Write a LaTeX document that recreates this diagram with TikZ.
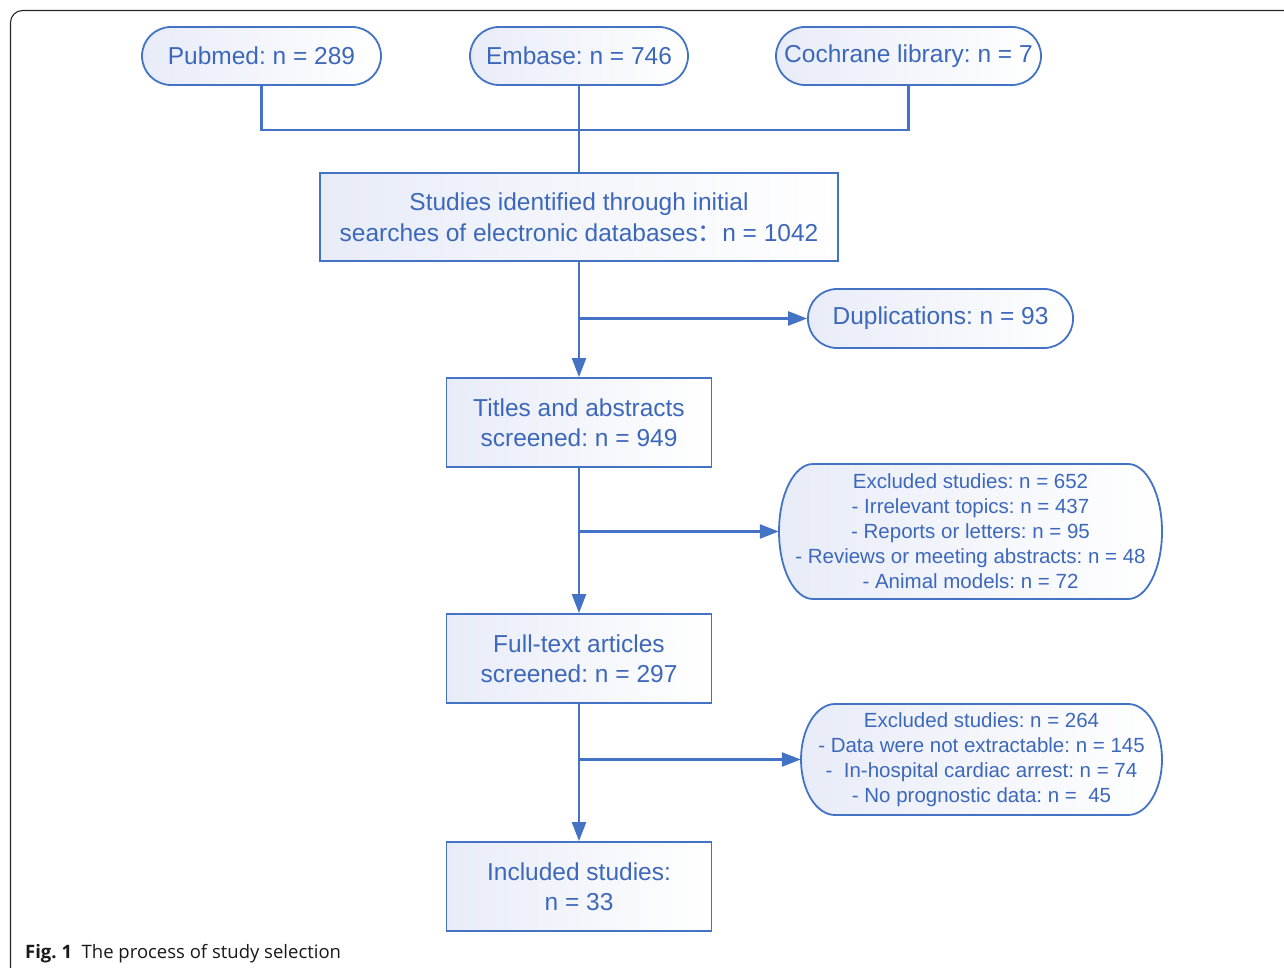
\documentclass[tikz,border=0pt]{standalone}
\usepackage{fontspec}
\setmainfont{Liberation Sans}
\newfontfamily\capfont{Open Sans}
\newfontfamily\cjk{Noto Sans CJK SC}
\usetikzlibrary{arrows.meta,calc}
\definecolor{lineblue}{HTML}{4472C4}
\definecolor{textblue}{HTML}{3D68BA}
\definecolor{fillblue}{HTML}{E8ECF8}
\frenchspacing
\begin{document}
\begin{tikzpicture}[x=1pt,y=-1pt,
  base/.style={draw=lineblue, line width=1.8pt, left color=fillblue, right color=white,
    text=textblue, align=center, inner sep=2pt, font=\frenchspacing\fontsize{24.5}{30.5}\selectfont},
  pill/.style={base, rounded corners=29pt, minimum height=58pt},
  box/.style={base, rectangle, minimum height=89pt},
  ghost/.style={text=textblue, align=center, inner sep=0pt, font=\frenchspacing\fontsize{20.5}{25}\selectfont},
  conn/.style={lineblue, line width=2.4pt},
  arr/.style={conn, -{Triangle[length=19pt,width=14pt]}}
]
\useasboundingbox (0,0) rectangle (1284,968);
% frame
\draw[black!85, line width=1.1pt, rounded corners=12pt] (1284,10.5) -- (10.5,10.5) -- (10.5,968);

% sources
\node[pill, minimum width=239pt] (pub) at (261.5,56) {Pubmed: n = 289};
\node[pill, minimum width=218pt] (emb) at (579,56) {Embase: n = 746};
\node[pill, minimum width=265pt] (coch) at (908.5,56) {Cochrane library: n = 7};

\node[box, minimum width=518pt, minimum height=88pt] (stud) at (579,217)
  {Studies identified through initial\\searches of electronic databases{\cjk ：}n = 1042};
\node[pill, minimum width=265pt, minimum height=59pt] (dup) at (940.5,318.5) {Duplications: n = 93};
\node[box, minimum width=265pt] (tit) at (579,422.5) {Titles and abstracts\\screened: n = 949};
\node[box, minimum width=265pt] (ft) at (579,658.5) {Full-text articles\\screened: n = 297};
\node[box, minimum width=265pt] (inc) at (579,886.5) {Included studies:\\n = 33};

% excluded 1
\path[draw=lineblue, line width=1.8pt, left color=fillblue, right color=white]
  (813,464) -- (1128,464) arc[start angle=90, end angle=-90, x radius=34pt, y radius=67.5pt]
  -- (813,599) arc[start angle=270, end angle=90, x radius=34pt, y radius=67.5pt] -- cycle;
\node[ghost, minimum width=383pt, minimum height=135pt] (ex1) at (970.5,531.5)
  {Excluded studies: n = 652\\- Irrelevant topics: n = 437\\- Reports or letters: n = 95\\- Reviews or meeting abstracts: n = 48\\- Animal models: n = 72};

% excluded 2
\path[draw=lineblue, line width=1.8pt, left color=fillblue, right color=white]
  (835,704) -- (1128,704) arc[start angle=90, end angle=-90, x radius=34pt, y radius=55.5pt]
  -- (835,815) arc[start angle=270, end angle=90, x radius=34pt, y radius=55.5pt] -- cycle;
\node[ghost, minimum width=361pt, minimum height=111pt] (ex2) at (981.5,759.5)
  {Excluded studies: n = 264\\- Data were not extractable: n = 145\\-\ \ In-hospital cardiac arrest: n = 74\\- No prognostic data: n =\ \ 45};

% connectors
\coordinate (jt) at (579,130);
\draw[conn] (pub.south) -- (pub.south |- jt) -- (coch.south |- jt) -- (coch.south);
\draw[conn] (emb.south) -- (stud.north);
\draw[arr] (stud.south) -- (tit.north);
\draw[arr] (stud.south |- dup.west) -- (dup.west);
\draw[arr] (tit.south) -- (ft.north);
\draw[arr] (tit.south |- ex1.west) -- (ex1.west);
\draw[arr] (ft.south) -- (inc.north);
\draw[arr] (ft.south |- ex2.west) -- (ex2.west);

% caption
\node[anchor=base west, inner sep=0pt, text=black!90, font=\capfont\fontsize{18.5}{22}\selectfont] (cap) at (25,958)
  {\textbf{Fig. 1}\ \ The process of study selection};
\end{tikzpicture}
\end{document}
